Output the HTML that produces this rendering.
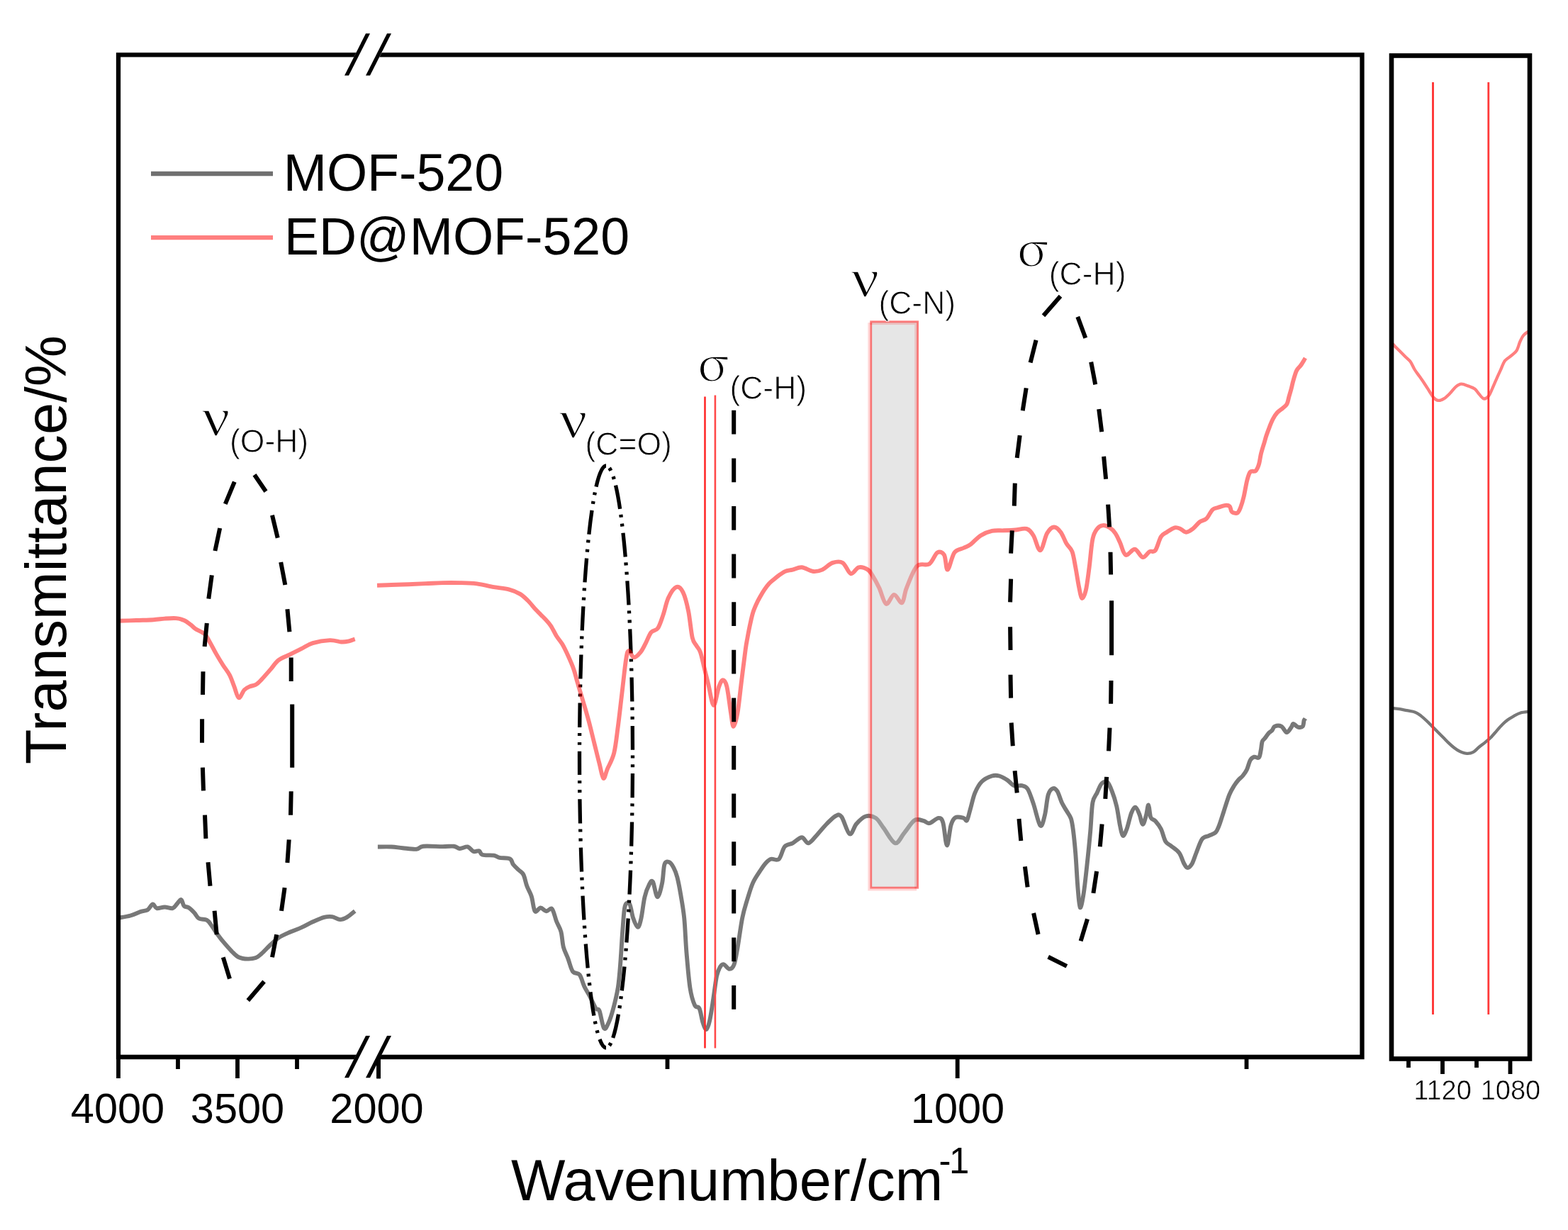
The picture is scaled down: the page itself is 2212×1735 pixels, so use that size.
<!DOCTYPE html><html><head><meta charset="utf-8"><title>FTIR spectra</title><style>html,body{margin:0;padding:0;background:#fff;overflow:hidden;width:2212px;height:1735px;}svg{display:block;}</style></head><body>
<svg width="2212" height="1735" viewBox="0 0 2212 1735">
<rect x="0" y="0" width="2212" height="1735" fill="#fff"/>
<defs><clipPath id="rp"><rect x="1963" y="78" width="195" height="1415"/></clipPath></defs>
<g>
<path d="M855,657 A37.5,410.5 0 0 0 855,1478" fill="none" stroke="#000" stroke-width="5.3" stroke-dasharray="34 8 4 9 4 9" stroke-dashoffset="0"/>
<path d="M855,657 A37.5,410.5 0 0 1 855,1478" fill="none" stroke="#000" stroke-width="5.3" stroke-dasharray="34 8 4 9 4 9" stroke-dashoffset="36"/>
<path d="M167.2,875.8C171.3,875.7 183.9,875.3 192.1,875.0C200.3,874.7 209.5,874.6 216.2,874.2C222.9,873.8 226.9,873.0 232.3,872.6C237.7,872.2 243.8,871.7 248.4,872.1C253.0,872.5 256.1,873.5 259.6,875.0C263.1,876.5 266.6,879.4 269.3,881.4C272.0,883.4 272.5,884.9 275.7,887.0C278.9,889.1 285.4,891.5 288.6,894.3C291.8,897.1 292.3,899.3 295.0,903.9C297.7,908.5 301.4,916.0 304.6,921.6C307.8,927.2 311.1,932.6 314.3,937.7C317.5,942.8 321.2,947.0 323.9,952.1C326.6,957.2 328.1,962.8 330.3,968.2C332.5,973.6 334.4,983.5 336.8,984.3C339.2,985.1 342.1,975.7 344.8,973.0C347.5,970.3 350.1,969.4 352.8,968.2C355.5,967.0 358.2,967.4 360.9,965.8C363.6,964.2 365.4,962.2 368.9,958.6C372.4,955.0 377.8,948.7 381.8,944.1C385.8,939.5 388.4,934.7 393.0,931.2C397.6,927.7 403.8,925.9 409.1,923.2C414.5,920.5 419.8,917.9 425.1,915.2C430.5,912.5 434.5,909.1 441.2,907.1C447.9,905.1 458.6,903.4 465.3,903.1C472.0,902.8 477.1,905.2 481.4,905.5C485.7,905.8 487.8,905.4 491.0,904.7C494.2,904.0 499.1,902.0 500.7,901.5" fill="none" stroke-linejoin="round" stroke-linecap="butt" stroke="rgba(255,0,0,0.5)" stroke-width="5.9"/>
<path d="M167.2,1294.7C170.0,1294.2 178.9,1293.0 184.1,1291.5C189.3,1290.0 194.6,1287.2 198.6,1285.9C202.6,1284.6 205.4,1285.2 208.2,1283.5C211.0,1281.8 213.2,1275.8 215.4,1275.4C217.6,1275.0 218.3,1280.4 221.1,1281.1C223.9,1281.8 228.6,1279.5 232.3,1279.5C236.1,1279.5 240.7,1281.9 243.6,1281.1C246.5,1280.3 248.0,1276.6 250.0,1274.6C252.0,1272.6 254.0,1268.5 255.6,1269.0C257.2,1269.5 257.9,1276.0 259.6,1277.9C261.4,1279.8 263.7,1278.7 266.1,1280.3C268.5,1281.9 271.7,1285.0 274.1,1287.5C276.5,1290.0 277.6,1293.8 280.5,1295.5C283.4,1297.2 288.9,1296.3 291.8,1297.9C294.8,1299.5 296.1,1302.4 298.2,1305.2C300.3,1308.0 301.9,1311.0 304.6,1314.8C307.3,1318.5 310.6,1323.2 314.3,1327.7C318.1,1332.2 323.4,1338.3 327.1,1342.1C330.9,1345.8 333.1,1348.5 336.8,1350.2C340.6,1352.0 345.6,1352.5 349.6,1352.6C353.6,1352.7 357.7,1352.2 360.9,1351.0C364.1,1349.8 365.4,1348.4 368.9,1345.3C372.4,1342.2 377.8,1336.2 381.8,1332.5C385.8,1328.8 388.4,1325.8 393.0,1322.8C397.6,1319.8 403.8,1317.2 409.1,1314.8C414.5,1312.4 419.8,1310.8 425.1,1308.4C430.5,1306.0 435.8,1302.7 441.2,1300.3C446.6,1297.9 452.8,1295.1 457.3,1293.9C461.9,1292.7 464.8,1292.6 468.5,1293.1C472.2,1293.6 476.3,1297.0 479.8,1297.1C483.3,1297.2 485.9,1295.9 489.4,1293.9C492.9,1291.9 498.8,1286.6 500.7,1285.1" fill="none" stroke-linejoin="round" stroke-linecap="butt" stroke="rgba(0,0,0,0.53)" stroke-width="5.9"/>
<path d="M532.0,825.8C535.4,825.7 544.7,825.3 552.1,825.0C559.5,824.7 568.2,824.5 576.2,824.2C584.2,823.9 592.2,823.5 600.3,823.1C608.3,822.8 616.5,822.3 624.5,822.1C632.5,821.9 640.6,821.9 648.6,822.1C656.6,822.3 664.7,822.4 672.7,823.4C680.7,824.4 689.3,826.9 696.8,828.2C704.3,829.5 711.6,829.8 717.7,831.4C723.9,833.0 729.2,835.2 733.7,837.9C738.2,840.6 741.2,843.8 745.0,847.5C748.8,851.2 752.2,856.0 756.2,860.3C760.2,864.6 765.6,869.5 769.1,873.2C772.6,877.0 774.4,878.8 777.1,882.8C779.8,886.8 782.4,893.0 785.1,897.3C787.8,901.6 790.5,904.0 793.2,908.6C795.9,913.2 798.5,918.7 801.2,924.6C803.9,930.5 807.2,938.1 809.3,943.9C811.4,949.7 812.3,954.5 813.7,959.3C815.1,964.0 815.9,967.1 817.5,972.4C819.1,977.7 820.9,983.6 823.1,991.1C825.3,998.6 828.1,1007.9 830.6,1017.3C833.1,1026.7 835.6,1037.3 838.1,1047.3C840.6,1057.3 843.4,1068.9 845.6,1077.3C847.8,1085.7 849.3,1096.7 851.2,1097.9C853.1,1099.2 854.3,1090.7 856.8,1084.8C859.3,1078.9 863.7,1072.3 866.2,1062.3C868.7,1052.3 869.9,1038.8 871.8,1024.8C873.7,1010.8 875.5,993.6 877.4,978.0C879.3,962.4 881.4,941.1 883.0,931.1C884.6,921.1 884.9,918.6 886.8,918.0C888.7,917.4 891.5,927.1 894.3,927.4C897.1,927.7 900.9,923.3 903.7,919.9C906.5,916.5 908.6,911.5 911.1,906.8C913.6,902.1 915.8,895.2 918.6,891.8C921.4,888.4 925.2,890.3 928.0,886.2C930.8,882.1 933.0,874.6 935.5,867.4C938.0,860.2 939.9,849.6 943.0,843.1C946.1,836.6 950.8,829.4 954.2,828.1C957.6,826.9 960.8,830.0 963.6,835.6C966.4,841.2 968.9,851.2 971.1,861.8C973.3,872.4 974.8,891.2 976.7,899.3C978.6,907.4 980.4,907.1 982.3,910.5C984.2,913.9 986.1,914.6 988.0,919.9C989.9,925.2 991.7,934.9 993.6,942.4C995.5,949.9 997.0,956.2 999.2,964.9C1001.4,973.6 1004.2,994.2 1006.7,994.8C1009.2,995.4 1012.0,974.5 1014.2,968.6C1016.4,962.7 1017.9,959.3 1019.8,959.3C1021.7,959.3 1023.5,960.8 1025.4,968.6C1027.3,976.4 1029.5,996.7 1031.1,1006.1C1032.7,1015.5 1033.2,1024.8 1034.8,1024.8C1036.3,1024.8 1038.5,1016.7 1040.4,1006.1C1042.3,995.5 1044.1,976.1 1046.0,961.1C1047.9,946.1 1050.3,926.5 1051.7,916.2C1053.1,905.9 1053.4,905.5 1054.5,899.5C1055.6,893.5 1057.0,886.1 1058.3,880.2C1059.6,874.3 1060.7,868.9 1062.2,864.1C1063.7,859.3 1065.7,855.0 1067.4,851.2C1069.1,847.4 1070.7,844.7 1072.5,841.5C1074.3,838.3 1076.3,834.9 1078.3,831.9C1080.3,828.9 1082.5,825.9 1084.7,823.5C1086.9,821.1 1089.1,819.5 1091.2,817.7C1093.3,815.9 1094.9,814.4 1097.6,812.5C1100.3,810.6 1103.9,807.6 1107.3,806.1C1110.7,804.6 1114.2,804.6 1118.2,803.6C1122.2,802.6 1126.3,799.9 1131.1,800.3C1135.9,800.7 1142.3,805.5 1147.1,806.0C1151.9,806.5 1155.4,805.6 1160.0,803.6C1164.6,801.6 1169.7,795.5 1174.5,793.9C1179.3,792.3 1184.6,791.3 1188.9,793.9C1193.2,796.5 1196.5,808.1 1200.2,809.2C1204.0,810.3 1207.4,801.2 1211.4,800.3C1215.4,799.4 1221.1,801.7 1224.3,803.6C1227.5,805.5 1228.0,807.3 1230.7,811.6C1233.4,815.9 1237.1,822.6 1240.3,829.3C1243.5,836.0 1246.5,850.2 1250.0,851.8C1253.5,853.4 1257.5,839.2 1261.2,838.9C1265.0,838.6 1269.5,851.8 1272.5,850.2C1275.5,848.6 1275.4,837.9 1278.9,829.3C1282.4,820.7 1288.1,804.3 1293.4,798.7C1298.8,793.1 1306.2,798.7 1311.0,795.5C1315.8,792.3 1318.8,781.6 1322.3,779.5C1325.8,777.4 1329.6,778.7 1332.0,782.7C1334.4,786.7 1334.4,804.1 1336.8,803.6C1339.2,803.1 1342.7,784.6 1346.4,779.5C1350.1,774.4 1355.5,774.9 1359.2,773.0C1363.0,771.1 1364.9,771.1 1368.9,768.2C1372.9,765.3 1378.3,758.6 1383.4,755.4C1388.5,752.2 1394.0,750.1 1399.4,748.9C1404.9,747.7 1410.6,748.5 1416.1,748.3C1421.5,748.1 1426.8,747.9 1432.1,747.5C1437.4,747.1 1443.9,744.6 1448.2,745.9C1452.5,747.2 1454.7,750.4 1457.9,755.5C1461.1,760.6 1464.3,776.9 1467.5,776.4C1470.7,775.9 1473.9,757.8 1477.1,752.3C1480.3,746.8 1483.6,743.8 1486.8,743.5C1490.0,743.2 1493.5,746.8 1496.4,750.7C1499.4,754.6 1501.8,762.2 1504.5,766.8C1507.2,771.3 1510.4,772.4 1512.5,778.0C1514.6,783.6 1515.7,792.2 1517.3,800.5C1518.9,808.8 1520.6,820.6 1522.1,827.8C1523.6,835.0 1524.5,843.1 1526.1,843.9C1527.7,844.7 1530.0,839.9 1531.8,832.7C1533.5,825.5 1535.0,812.6 1536.6,800.5C1538.2,788.4 1539.5,769.4 1541.4,760.3C1543.3,751.2 1545.4,749.1 1547.8,745.9C1550.2,742.7 1553.0,741.4 1555.9,741.1C1558.9,740.8 1562.6,742.4 1565.5,744.3C1568.4,746.2 1571.1,748.8 1573.5,752.3C1575.9,755.8 1577.6,760.1 1580.0,765.2C1582.4,770.3 1584.5,781.2 1588.0,782.8C1591.5,784.4 1596.9,774.2 1600.9,774.8C1604.9,775.3 1608.6,785.6 1612.1,786.1C1615.6,786.6 1618.8,779.6 1621.8,778.0C1624.8,776.4 1627.1,779.9 1629.8,776.4C1632.5,772.9 1635.1,761.4 1637.8,757.1C1640.5,752.8 1642.7,752.8 1645.9,750.7C1649.1,748.6 1653.9,745.1 1657.1,744.3C1660.3,743.5 1662.4,744.8 1665.1,745.9C1667.8,747.0 1670.2,750.7 1673.2,750.7C1676.2,750.7 1679.6,748.3 1682.8,745.9C1686.0,743.5 1689.3,738.6 1692.5,736.2C1695.7,733.8 1699.1,734.3 1702.1,731.4C1705.1,728.5 1707.7,721.6 1710.4,719.0C1713.1,716.4 1715.0,717.0 1718.1,716.0C1721.1,715.0 1725.9,713.2 1728.7,712.9C1731.5,712.6 1733.3,712.9 1734.8,714.4C1736.3,715.9 1736.0,720.5 1737.8,722.0C1739.6,723.5 1743.5,724.6 1745.5,723.6C1747.5,722.6 1748.5,719.8 1750.0,716.0C1751.5,712.2 1753.1,707.1 1754.6,700.7C1756.1,694.4 1757.7,683.7 1759.2,677.9C1760.7,672.1 1761.7,668.0 1763.7,665.7C1765.7,663.4 1769.3,666.0 1771.3,664.2C1773.3,662.4 1774.6,659.2 1775.9,655.1C1777.2,651.0 1777.7,644.9 1779.0,639.8C1780.3,634.7 1782.2,628.9 1783.5,624.6C1784.8,620.3 1785.3,617.8 1786.6,614.0C1787.9,610.2 1789.6,605.6 1791.1,601.8C1792.6,598.0 1793.9,594.4 1795.7,591.1C1797.5,587.8 1799.5,584.5 1801.8,582.0C1804.1,579.5 1807.1,577.9 1809.4,575.9C1811.7,573.9 1814.0,572.6 1815.5,569.8C1817.0,567.0 1817.5,562.8 1818.5,559.2C1819.5,555.7 1820.6,552.3 1821.6,548.5C1822.6,544.7 1823.3,540.6 1824.6,536.3C1825.9,532.0 1827.4,526.1 1829.2,522.6C1831.0,519.1 1833.3,517.9 1835.3,515.0C1837.3,512.1 1840.4,506.8 1841.4,505.1" fill="none" stroke-linejoin="round" stroke-linecap="butt" stroke="rgba(255,0,0,0.5)" stroke-width="5.9"/>
<path d="M532.9,1194.5C536.1,1194.5 546.2,1194.2 552.1,1194.5C558.0,1194.8 562.3,1195.7 568.2,1196.2C574.1,1196.8 582.7,1198.2 587.5,1197.8C592.3,1197.4 590.9,1194.3 597.1,1193.7C603.3,1193.1 617.3,1194.1 624.5,1194.1C631.7,1194.1 636.5,1193.2 640.5,1193.7C644.5,1194.2 645.4,1196.9 648.6,1197.0C651.8,1197.1 656.6,1193.8 659.8,1194.5C663.0,1195.2 665.1,1200.0 667.8,1201.0C670.5,1202.0 673.8,1199.4 675.9,1200.2C678.0,1201.0 677.2,1204.7 680.7,1205.8C684.2,1206.9 692.8,1205.9 696.8,1206.6C700.8,1207.3 701.0,1209.0 704.8,1209.8C708.5,1210.6 716.1,1209.8 719.3,1211.4C722.5,1213.0 722.0,1216.8 724.1,1219.5C726.2,1222.2 729.7,1225.1 732.1,1227.5C734.5,1229.9 736.6,1230.2 738.5,1233.9C740.4,1237.7 741.5,1244.9 743.4,1250.0C745.3,1255.1 747.9,1258.6 749.8,1264.5C751.7,1270.4 752.5,1282.6 754.6,1285.3C756.7,1288.0 759.9,1280.5 762.6,1280.5C765.3,1280.5 768.0,1285.0 770.7,1285.3C773.4,1285.6 776.3,1279.7 778.7,1282.1C781.1,1284.5 783.0,1294.4 785.1,1299.8C787.2,1305.2 789.9,1308.4 791.5,1314.4C793.1,1320.4 793.2,1329.4 794.8,1335.7C796.4,1342.0 799.1,1346.3 801.3,1352.1C803.5,1357.8 805.2,1366.4 807.9,1370.2C810.6,1374.0 815.0,1371.5 817.7,1375.1C820.4,1378.6 821.8,1386.3 824.3,1391.5C826.8,1396.7 829.8,1401.0 832.5,1406.2C835.2,1411.4 838.5,1419.3 840.7,1422.6C842.9,1425.9 843.7,1421.2 845.6,1425.9C847.5,1430.6 849.9,1447.8 852.1,1450.5C854.3,1453.2 856.5,1447.0 858.7,1442.3C860.9,1437.6 863.0,1430.8 865.2,1422.6C867.4,1414.4 870.1,1403.5 871.8,1393.1C873.4,1382.7 874.0,1374.0 875.1,1360.3C876.2,1346.6 877.3,1324.8 878.4,1311.1C879.5,1297.4 880.0,1284.4 881.6,1278.4C883.2,1272.4 886.3,1272.4 888.2,1275.1C890.1,1277.8 891.2,1289.3 893.1,1294.8C895.0,1300.3 897.8,1307.9 899.7,1307.9C901.6,1307.9 903.0,1301.9 904.6,1294.8C906.2,1287.7 907.6,1273.1 909.5,1265.2C911.4,1257.3 914.2,1250.8 916.1,1247.2C918.0,1243.7 919.1,1240.9 921.0,1243.9C922.9,1246.9 925.3,1264.9 927.5,1265.2C929.7,1265.5 932.5,1253.2 934.1,1245.6C935.8,1237.9 935.8,1224.2 937.4,1219.3C939.0,1214.4 941.7,1215.3 943.9,1216.1C946.1,1216.9 948.6,1220.8 950.5,1224.3C952.4,1227.8 953.8,1231.1 955.4,1237.4C957.0,1243.7 958.7,1252.4 960.3,1262.0C961.9,1271.6 963.8,1281.1 965.2,1294.8C966.6,1308.5 967.1,1327.5 968.5,1343.9C969.9,1360.3 971.5,1380.8 973.4,1393.1C975.3,1405.4 977.8,1412.8 980.0,1417.7C982.2,1422.6 984.7,1418.5 986.6,1422.6C988.5,1426.7 989.9,1437.4 991.5,1442.3C993.1,1447.2 994.8,1452.6 996.4,1452.1C998.0,1451.5 999.7,1446.1 1001.3,1439.0C1002.9,1431.9 1004.6,1419.9 1006.2,1409.5C1007.8,1399.1 1009.5,1384.4 1011.1,1376.7C1012.8,1369.0 1014.5,1366.3 1016.1,1363.6C1017.8,1360.9 1018.8,1359.8 1021.0,1360.3C1023.2,1360.8 1026.8,1366.9 1029.2,1366.9C1031.7,1366.9 1033.8,1365.5 1035.7,1360.3C1037.6,1355.1 1038.8,1346.6 1040.7,1335.7C1042.6,1324.8 1045.0,1305.7 1047.2,1294.8C1049.4,1283.9 1051.3,1278.4 1053.8,1270.2C1056.3,1262.0 1059.0,1252.4 1062.0,1245.6C1065.0,1238.8 1068.8,1233.8 1071.8,1229.2C1074.8,1224.6 1077.3,1220.6 1080.0,1217.7C1082.7,1214.8 1084.5,1212.8 1087.7,1211.8C1090.9,1210.8 1095.7,1214.8 1098.9,1211.8C1102.1,1208.8 1103.8,1197.8 1107.0,1194.1C1110.2,1190.3 1114.2,1191.4 1118.2,1189.3C1122.2,1187.2 1127.3,1181.2 1131.1,1181.2C1134.8,1181.2 1137.0,1190.1 1140.7,1189.3C1144.5,1188.5 1149.3,1181.0 1153.6,1176.4C1157.9,1171.9 1162.1,1166.3 1166.4,1162.0C1170.7,1157.7 1175.8,1152.3 1179.3,1150.7C1182.8,1149.1 1184.1,1148.0 1187.3,1152.3C1190.5,1156.6 1195.1,1174.8 1198.6,1176.4C1202.1,1178.0 1204.5,1166.2 1208.2,1162.0C1212.0,1157.8 1216.5,1152.8 1221.1,1151.5C1225.6,1150.2 1231.2,1151.1 1235.5,1153.9C1239.8,1156.7 1242.2,1162.5 1246.8,1168.4C1251.3,1174.3 1258.0,1188.2 1262.8,1189.3C1267.6,1190.4 1271.1,1180.2 1275.7,1174.8C1280.3,1169.4 1285.7,1159.9 1290.2,1157.1C1294.8,1154.3 1299.5,1157.2 1303.0,1157.9C1306.5,1158.6 1307.5,1161.9 1311.0,1161.2C1314.5,1160.5 1320.7,1154.1 1323.9,1153.9C1327.1,1153.8 1328.3,1153.9 1330.3,1160.3C1332.3,1166.7 1334.0,1192.0 1335.9,1192.5C1337.8,1193.0 1339.6,1170.2 1341.6,1163.6C1343.6,1157.0 1345.0,1154.7 1348.0,1153.1C1351.0,1151.5 1356.6,1153.2 1359.3,1153.9C1362.0,1154.6 1362.5,1159.2 1364.1,1157.1C1365.7,1155.0 1367.0,1147.5 1368.9,1141.1C1370.8,1134.7 1372.6,1125.0 1375.3,1118.6C1378.0,1112.2 1381.0,1106.5 1385.0,1102.5C1389.0,1098.5 1395.3,1095.8 1399.4,1094.5C1403.5,1093.2 1406.0,1093.5 1409.6,1094.5C1413.2,1095.5 1417.4,1097.9 1420.9,1100.2C1424.4,1102.5 1427.0,1106.9 1430.5,1108.2C1434.0,1109.5 1438.6,1107.4 1441.8,1108.2C1445.0,1109.0 1447.1,1108.7 1449.8,1113.0C1452.5,1117.3 1455.0,1125.3 1457.9,1133.9C1460.9,1142.5 1464.8,1161.8 1467.5,1164.5C1470.2,1167.2 1472.0,1157.2 1473.9,1150.0C1475.8,1142.8 1476.8,1127.4 1478.7,1121.1C1480.6,1114.8 1483.1,1113.0 1485.2,1112.2C1487.3,1111.4 1489.5,1112.9 1491.6,1116.2C1493.7,1119.5 1495.8,1127.7 1498.0,1132.3C1500.2,1136.9 1502.3,1139.8 1504.5,1143.6C1506.7,1147.3 1509.3,1150.0 1510.9,1154.8C1512.5,1159.6 1513.0,1164.2 1514.1,1172.5C1515.2,1180.8 1516.2,1191.2 1517.3,1204.6C1518.4,1218.0 1519.4,1240.2 1520.5,1252.8C1521.6,1265.4 1522.4,1278.8 1523.7,1280.2C1525.0,1281.6 1527.0,1270.8 1528.6,1260.9C1530.2,1251.0 1531.8,1235.4 1533.4,1220.7C1535.0,1206.0 1536.9,1187.2 1538.2,1172.5C1539.5,1157.8 1539.8,1141.4 1541.4,1132.3C1543.0,1123.2 1545.7,1122.5 1547.8,1117.9C1549.9,1113.4 1551.9,1107.4 1554.3,1105.0C1556.7,1102.6 1559.9,1101.5 1562.3,1103.4C1564.7,1105.3 1566.5,1110.6 1568.7,1116.2C1570.9,1121.8 1573.3,1129.0 1575.2,1137.1C1577.1,1145.1 1578.5,1157.5 1580.0,1164.5C1581.5,1171.5 1582.4,1178.1 1584.0,1178.9C1585.6,1179.7 1587.6,1174.7 1589.6,1169.3C1591.6,1163.9 1594.0,1151.9 1596.0,1146.8C1598.0,1141.7 1599.8,1138.4 1601.7,1138.7C1603.6,1139.0 1605.6,1144.4 1607.3,1148.4C1609.0,1152.4 1610.5,1162.5 1612.1,1162.8C1613.7,1163.1 1615.6,1154.5 1616.9,1150.0C1618.2,1145.5 1619.1,1135.0 1620.2,1135.5C1621.3,1136.0 1621.8,1149.5 1623.4,1153.2C1625.0,1157.0 1627.4,1155.3 1629.8,1158.0C1632.2,1160.7 1635.4,1164.5 1637.8,1169.3C1640.2,1174.1 1641.9,1183.0 1644.3,1187.0C1646.7,1191.0 1649.1,1190.7 1652.3,1193.4C1655.5,1196.1 1660.5,1199.0 1663.5,1203.0C1666.5,1207.0 1668.1,1214.0 1670.0,1217.5C1671.9,1221.0 1672.9,1223.6 1674.8,1223.9C1676.7,1224.2 1679.1,1222.6 1681.2,1219.1C1683.3,1215.6 1685.2,1208.9 1687.6,1203.0C1690.0,1197.1 1692.8,1187.7 1695.7,1183.7C1698.7,1179.7 1702.1,1180.5 1705.3,1178.9C1708.5,1177.3 1712.5,1176.5 1714.9,1174.1C1717.3,1171.7 1717.9,1169.3 1719.8,1164.5C1721.7,1159.7 1723.8,1152.4 1726.2,1145.2C1728.6,1138.0 1731.7,1127.3 1734.2,1121.1C1736.7,1114.9 1739.1,1111.4 1741.2,1108.0C1743.3,1104.6 1744.8,1102.8 1746.8,1100.5C1748.8,1098.2 1751.4,1096.5 1753.4,1094.0C1755.4,1091.5 1757.3,1089.1 1759.0,1085.5C1760.7,1081.9 1762.0,1075.4 1763.7,1072.4C1765.4,1069.4 1767.3,1068.3 1769.3,1067.7C1771.3,1067.1 1774.3,1070.2 1775.9,1068.7C1777.5,1067.2 1777.9,1062.2 1778.7,1058.4C1779.5,1054.7 1779.7,1049.0 1780.6,1046.2C1781.5,1043.4 1782.8,1043.5 1784.3,1041.5C1785.8,1039.5 1788.2,1035.9 1789.9,1034.0C1791.6,1032.1 1793.2,1031.9 1794.6,1030.3C1796.0,1028.7 1796.2,1025.5 1798.4,1024.6C1800.6,1023.6 1804.9,1023.2 1807.7,1024.6C1810.5,1026.0 1812.9,1032.9 1815.2,1033.1C1817.5,1033.3 1820.2,1027.6 1821.8,1025.6C1823.4,1023.6 1823.0,1020.9 1824.6,1020.9C1826.1,1020.9 1828.9,1025.0 1831.1,1025.6C1833.3,1026.2 1836.3,1026.2 1837.7,1024.6C1839.1,1023.0 1839.0,1018.1 1839.6,1016.2C1840.2,1014.3 1841.2,1013.9 1841.5,1013.4" fill="none" stroke-linejoin="round" stroke-linecap="butt" stroke="rgba(0,0,0,0.53)" stroke-width="5.9"/>
<g clip-path="url(#rp)"><path d="M1958.0,478.5C1958.8,479.3 1961.3,481.8 1962.9,483.4C1964.5,485.0 1965.8,486.4 1967.8,488.4C1969.8,490.4 1972.2,492.8 1974.7,495.3C1977.2,497.8 1980.1,500.7 1982.6,503.2C1985.1,505.7 1987.4,507.1 1989.6,510.1C1991.8,513.1 1993.4,517.5 1995.5,521.0C1997.6,524.5 2000.1,527.5 2002.4,530.8C2004.7,534.1 2007.0,537.2 2009.3,540.7C2011.6,544.2 2014.1,548.2 2016.2,551.5C2018.3,554.8 2020.0,558.2 2022.1,560.4C2024.2,562.6 2026.5,564.6 2029.0,564.9C2031.5,565.2 2034.1,564.1 2036.9,562.4C2039.7,560.7 2043.0,557.3 2045.8,554.5C2048.6,551.7 2051.1,547.7 2053.7,545.6C2056.3,543.5 2058.6,541.9 2061.6,541.7C2064.6,541.5 2068.4,543.5 2071.5,544.6C2074.6,545.8 2077.9,546.8 2080.4,548.6C2082.9,550.4 2084.2,553.2 2086.3,555.5C2088.4,557.8 2090.9,561.9 2093.2,562.4C2095.5,562.9 2098.1,560.8 2100.1,558.5C2102.1,556.2 2103.2,552.6 2105.0,548.6C2106.8,544.6 2109.0,539.2 2111.0,534.8C2113.0,530.3 2114.9,526.2 2116.9,521.9C2118.9,517.6 2120.2,512.6 2122.8,509.1C2125.4,505.7 2129.9,503.7 2132.7,501.2C2135.5,498.7 2137.6,497.6 2139.6,494.3C2141.6,491.0 2142.8,485.1 2144.5,481.5C2146.2,477.9 2147.3,475.1 2149.5,472.6C2151.7,470.1 2156.1,467.7 2157.4,466.7" fill="none" stroke-linejoin="round" stroke-linecap="butt" stroke="rgba(255,0,0,0.5)" stroke-width="4.3"/>
<path d="M1958.0,998.5C1959.0,998.5 1961.1,998.5 1963.9,998.8C1966.7,999.1 1971.2,999.6 1974.7,1000.2C1978.2,1000.8 1981.0,1001.5 1984.6,1002.2C1988.2,1003.0 1993.2,1003.5 1996.5,1004.7C1999.8,1005.9 2001.8,1007.6 2004.4,1009.6C2007.0,1011.6 2009.7,1014.0 2012.3,1016.5C2014.9,1019.0 2017.6,1021.8 2020.2,1024.4C2022.8,1027.0 2025.4,1029.7 2028.0,1032.3C2030.6,1034.9 2033.4,1037.6 2036.0,1040.2C2038.6,1042.8 2041.2,1045.6 2043.8,1048.1C2046.4,1050.6 2049.1,1053.0 2051.7,1055.0C2054.3,1057.0 2056.6,1058.7 2059.6,1060.0C2062.6,1061.3 2066.4,1062.8 2069.5,1062.9C2072.6,1063.1 2075.6,1062.4 2078.4,1060.9C2081.2,1059.4 2083.5,1056.3 2086.3,1054.0C2089.1,1051.7 2092.4,1049.4 2095.2,1047.1C2098.0,1044.8 2100.5,1042.8 2103.1,1040.2C2105.7,1037.6 2108.4,1034.3 2111.0,1031.3C2113.6,1028.3 2116.3,1025.0 2118.9,1022.4C2121.5,1019.8 2124.2,1017.5 2126.8,1015.5C2129.4,1013.5 2131.8,1012.2 2134.7,1010.6C2137.6,1009.0 2140.7,1006.9 2144.5,1005.7C2148.3,1004.6 2155.2,1004.0 2157.4,1003.7" fill="none" stroke-linejoin="round" stroke-linecap="butt" stroke="rgba(0,0,0,0.53)" stroke-width="4.3"/></g>
<rect x="1228.7" y="453.8" width="65.9" height="798.4" fill="rgba(200,200,200,0.45)" stroke="rgba(255,0,0,0.5)" stroke-width="2.9"/>
<rect x="1225.8" y="456.6" width="65.9" height="798.4" fill="none" stroke="rgba(255,0,0,0.16)" stroke-width="2.9"/>
<line x1="994.5" y1="559.5" x2="994.5" y2="1478.5" stroke="#ff2a2a" stroke-width="2.6"/>
<line x1="1008.9" y1="557.5" x2="1008.9" y2="1478.5" stroke="#ff4a4a" stroke-width="2.6"/>
<line x1="2021.5" y1="116" x2="2021.5" y2="1431" stroke="#ff3030" stroke-width="2.8"/>
<line x1="2099.8" y1="116" x2="2099.8" y2="1431" stroke="#ff3a3a" stroke-width="2.8"/>
<line x1="1035.2" y1="578.8" x2="1035.2" y2="1424.1" stroke="#000" stroke-width="6" stroke-dasharray="33.8 33.8"/>
<path d="M330.8,679.6L317.8,710.8 M310.2,745.0L303.4,777.0 M298.8,811.3L294.3,844.7 M291.8,879.0L288.6,912.0 M286.5,947.2L286.0,980.0 M285.1,1014.2L285.0,1047.7 M285.9,1082.7L287.0,1115.4 M289.0,1149.7L290.4,1182.8 M293.5,1216.3L296.5,1249.8 M302.6,1284.8L305.7,1318.3 M314.8,1350.3L324.0,1380.7 M349.8,1411.2L372.6,1384.5 M359.0,669.7L375.0,693.3 M384.0,726.8L391.7,758.7 M396.2,793.0L402.3,825.0 M405.4,859.2L408.4,891.2 M410.7,927.4L410.7,960.9 M412.2,993.6L412.2,1082.7 M410.7,1116.2L410.0,1149.7 M407.7,1184.4L405.4,1217.0 M401.6,1252.1L397.0,1284.8 M390.2,1318.3L384.0,1350.3" fill="none" stroke="#000" stroke-width="6.0" stroke-linecap="butt"/>
<path d="M1496.0,417.7L1472.0,445.3 M1461.6,479.7L1453.6,511.6 M1447.7,547.4L1442.7,579.2 M1438.7,614.1L1434.7,645.9 M1431.8,681.7L1430.8,713.6 M1427.8,748.4L1426.1,780.7 M1426.1,816.6L1425.1,849.4 M1425.1,884.2L1425.5,917.0 M1425.5,951.8L1426.1,984.6 M1426.7,1019.5L1428.8,1052.3 M1431.6,1087.3L1434.7,1118.4 M1437.5,1154.9L1440.3,1185.9 M1445.9,1222.4L1449.6,1251.4 M1458.1,1288.0L1464.6,1318.0 M1478.7,1349.8L1504.9,1362.9 M1520.3,446.9L1531.3,476.7 M1539.2,510.6L1545.2,542.4 M1550.2,577.2L1554.2,609.1 M1557.1,643.9L1560.1,675.8 M1563.1,711.6L1565.1,743.4 M1566.5,778.7L1567.1,810.5 M1568.1,847.3L1568.1,924.2 M1567.5,960.0L1567.1,992.8 M1565.5,1026.6L1564.0,1059.4 M1561.1,1095.9L1559.3,1126.8 M1554.6,1162.4L1551.8,1194.3 M1547.1,1229.0L1542.4,1259.9 M1534.0,1296.4L1524.6,1327.3" fill="none" stroke="#000" stroke-width="6.0" stroke-linecap="butt"/>
<g fill="none" stroke="#000" stroke-width="6.3" stroke-linecap="square">
<path d="M167,1491 L167,77.3 L1921.5,77.3 L1921.5,1491 Z"/>
<rect x="1963" y="78.5" width="195" height="1415" stroke-width="6.6"/>
</g>
<path d="M167,1491L167,1521M335,1491L335,1521M251,1491L251,1508M419,1491L419,1508M534,1491L534,1521M1350.7,1491L1350.7,1521M941.5,1491L941.5,1508M1758.5,1491L1758.5,1508M2035,1494L2035,1515M2130.5,1494L2130.5,1515M1987,1494L1987,1506M2083,1494L2083,1506" stroke="#000" stroke-width="5.8" fill="none"/>
<polygon points="504,71 540,71 533.9,83.5 497.9,83.5" fill="#fff"/>
<polygon points="504,1485 539.5,1485 533.3,1497.5 497.8,1497.5" fill="#fff"/>
<path d="M534,1491L534,1521.5" stroke="#000" stroke-width="5.6"/>
<polygon points="486,106.5 492,106.5 522,47.3 516,47.3" fill="#000"/><polygon points="516,106.5 522,106.5 552,47.3 546,47.3" fill="#000"/><polygon points="486,1520.2 492,1520.2 522,1461.0 516,1461.0" fill="#000"/><polygon points="516,1520.2 522,1520.2 552,1461.0 546,1461.0" fill="#000"/>
<line x1="213" y1="245" x2="385" y2="245" stroke="rgba(0,0,0,0.56)" stroke-width="6.4"/>
<line x1="213" y1="335.1" x2="385" y2="335.1" stroke="rgba(255,0,0,0.5)" stroke-width="6.4"/>
<text x="399.7" y="268.8" font-family="'Liberation Sans', Arial, sans-serif" font-size="73.5" fill="#000">MOF-520</text>
<text x="401" y="359.4" font-family="'Liberation Sans', Arial, sans-serif" font-size="73.5" fill="#000">ED@MOF-520</text>
<text x="166" y="1584.3" font-family="'Liberation Sans', Arial, sans-serif" font-size="59.5" text-anchor="middle">4000</text>
<text x="335" y="1584.3" font-family="'Liberation Sans', Arial, sans-serif" font-size="59.5" text-anchor="middle">3500</text>
<text x="531.5" y="1584.3" font-family="'Liberation Sans', Arial, sans-serif" font-size="59.5" text-anchor="middle">2000</text>
<text x="1351" y="1584.3" font-family="'Liberation Sans', Arial, sans-serif" font-size="59.5" text-anchor="middle">1000</text>
<text x="2035" y="1550.6" font-family="'Liberation Sans', Arial, sans-serif" font-size="38" text-anchor="middle" stroke="#fff" stroke-width="0.6" stroke-linejoin="round">1120</text>
<text x="2131" y="1550.6" font-family="'Liberation Sans', Arial, sans-serif" font-size="38" text-anchor="middle" stroke="#fff" stroke-width="0.6" stroke-linejoin="round">1080</text>
<text transform="translate(92.5,1078) rotate(-90)" font-family="'Liberation Sans', Arial, sans-serif" font-size="81">Transmittance/%</text>
<text x="721" y="1692.5" font-family="'Liberation Sans', Arial, sans-serif" font-size="81">Wavenumber/cm</text>
<text x="1324.5" y="1654.7" font-family="'Liberation Sans', Arial, sans-serif" font-size="51" letter-spacing="-2.5">-1</text>
<text transform="translate(284.8,613.7) scale(1.14,1)" font-family="'Liberation Serif', 'Times New Roman', serif" font-size="77" stroke="#fff" stroke-width="1.5">ν</text><text transform="translate(324,638) scale(1,1.045)" font-family="'Liberation Sans', Arial, sans-serif" font-size="44.5" stroke="#fff" stroke-width="0.9" stroke-linejoin="round">(O-H)</text>
<text transform="translate(788.7,616.7) scale(1.14,1)" font-family="'Liberation Serif', 'Times New Roman', serif" font-size="77" stroke="#fff" stroke-width="1.5">ν</text><text transform="translate(825.5,642) scale(1,1.045)" font-family="'Liberation Sans', Arial, sans-serif" font-size="44.5" stroke="#fff" stroke-width="0.9" stroke-linejoin="round">(C=O)</text>
<text transform="translate(1200.4,418) scale(1.14,1)" font-family="'Liberation Serif', 'Times New Roman', serif" font-size="77" stroke="#fff" stroke-width="1.5">ν</text><text transform="translate(1239.4,443) scale(1,1.045)" font-family="'Liberation Sans', Arial, sans-serif" font-size="44.5" stroke="#fff" stroke-width="0.9" stroke-linejoin="round">(C-N)</text>
<text transform="translate(984.4,536.5) scale(1.08,1)" font-family="'Noto Serif CJK SC', 'Liberation Serif', serif" font-size="64" stroke="#fff" stroke-width="0.8">σ</text><text transform="translate(1029.4,562.7) scale(1,1.045)" font-family="'Liberation Sans', Arial, sans-serif" font-size="44.5" stroke="#fff" stroke-width="0.9" stroke-linejoin="round">(C-H)</text>
<text transform="translate(1435.3000000000002,375.2) scale(1.08,1)" font-family="'Noto Serif CJK SC', 'Liberation Serif', serif" font-size="64" stroke="#fff" stroke-width="0.8">σ</text><text transform="translate(1479.8,401.5) scale(1,1.045)" font-family="'Liberation Sans', Arial, sans-serif" font-size="44.5" stroke="#fff" stroke-width="0.9" stroke-linejoin="round">(C-H)</text>
</g>
</svg></body></html>
